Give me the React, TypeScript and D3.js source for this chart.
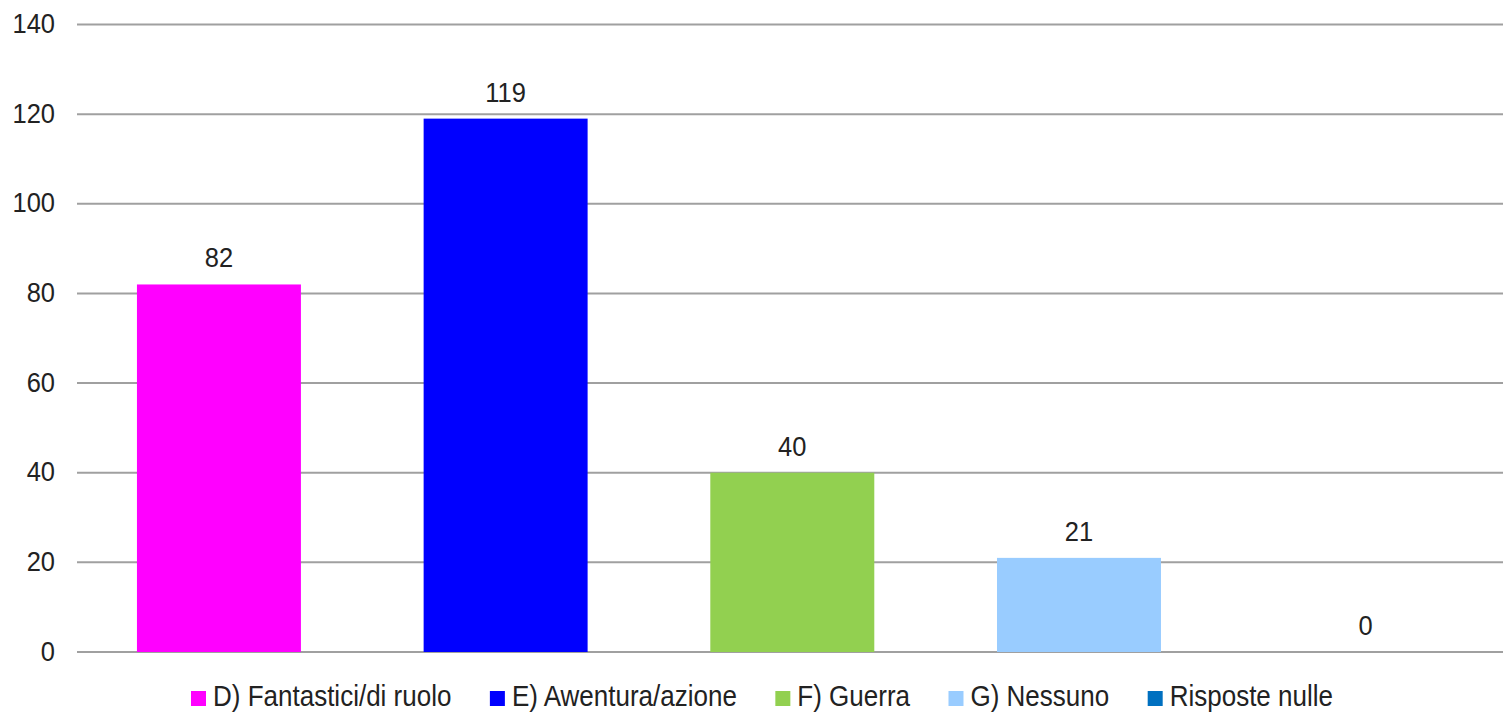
import React, { useEffect, useRef } from "react";
import * as d3 from "d3";

const categories = ["D) Fantastici/di ruolo", "E) Awentura/azione", "F) Guerra", "G) Nessuno", "Risposte nulle"];
const values = [82, 119, 40, 21, 0];
const colors = ["#ff00ff", "#0000ff", "#92d050", "#99ccff", "#0070c0"];
const yTicks = [0, 20, 40, 60, 80, 100, 120, 140];

const W = 1503;
const H = 713;
const FONT = "'Liberation Sans', Arial, sans-serif";
const FS = 25.5;
const LFS = 26;
const SY = 1.1;

export default function App() {
  const ref = useRef<SVGSVGElement | null>(null);

  useEffect(() => {
    const svg = d3.select(ref.current);
    svg.selectAll("*").remove();

    const x = d3.scaleBand<string>().domain(categories).range([75.6, 1509]).paddingInner(0.428).paddingOuter(0.214);
    const y = d3.scaleLinear().domain([0, 140]).range([652, 24.5]);

    // gridlines
    svg.append("g").selectAll("line").data(yTicks).join("line")
      .attr("x1", 77).attr("x2", W)
      .attr("y1", (d) => y(d)).attr("y2", (d) => y(d))
      .attr("stroke", "#a0a0a0").attr("stroke-width", 2);

    // y labels
    svg.append("g").selectAll("text").data(yTicks).join("text")
      .attr("transform", (d) => `translate(55,${y(d) + 8.5}) scale(1,${SY})`)
      .attr("text-anchor", "end")
      .attr("font-family", FONT).attr("font-size", FS).attr("fill", "#222")
      .text((d) => String(d));

    // bars
    svg.append("g").selectAll("rect").data(values).join("rect")
      .attr("x", (_, i) => x(categories[i]) as number)
      .attr("width", x.bandwidth())
      .attr("y", (d) => y(d))
      .attr("height", (d) => y(0) - y(d))
      .attr("fill", (_, i) => colors[i]);

    // bar labels
    svg.append("g").selectAll("text").data(values).join("text")
      .attr("transform", (d, i) => `translate(${(x(categories[i]) as number) + x.bandwidth() / 2},${y(d) - 17}) scale(1,${SY})`)
      .attr("text-anchor", "middle")
      .attr("font-family", FONT).attr("font-size", FS).attr("fill", "#222")
      .text((d) => String(d));

    // legend
    const leg = svg.append("g");
    const sq = 15;
    const gapText = 7;
    const legLeft = 191;
    const legRight = 1333;
    const items = categories.map((c, i) => {
      const g = leg.append("g");
      g.append("rect").attr("width", sq).attr("height", sq).attr("y", 691).attr("fill", colors[i]);
      const t = g.append("text")
        .attr("font-family", FONT).attr("font-size", LFS).attr("fill", "#222")
        .text(c);
      const w = (t.node() as SVGTextElement).getComputedTextLength();
      return { g, t, w };
    });
    const content = items.reduce((s, it) => s + sq + gapText + it.w, 0);
    const gapItem = (legRight - legLeft - content) / (items.length - 1);
    let cx = legLeft;
    items.forEach((it) => {
      it.g.select("rect").attr("x", cx);
      it.t.attr("transform", `translate(${cx + sq + gapText},706) scale(1,${SY})`);
      cx += sq + gapText + it.w + gapItem;
    });
  }, []);

  return (
    <svg ref={ref} width={W} height={H} style={{ position: "absolute", left: 0, top: 0, background: "#fff" }} />
  );
}
